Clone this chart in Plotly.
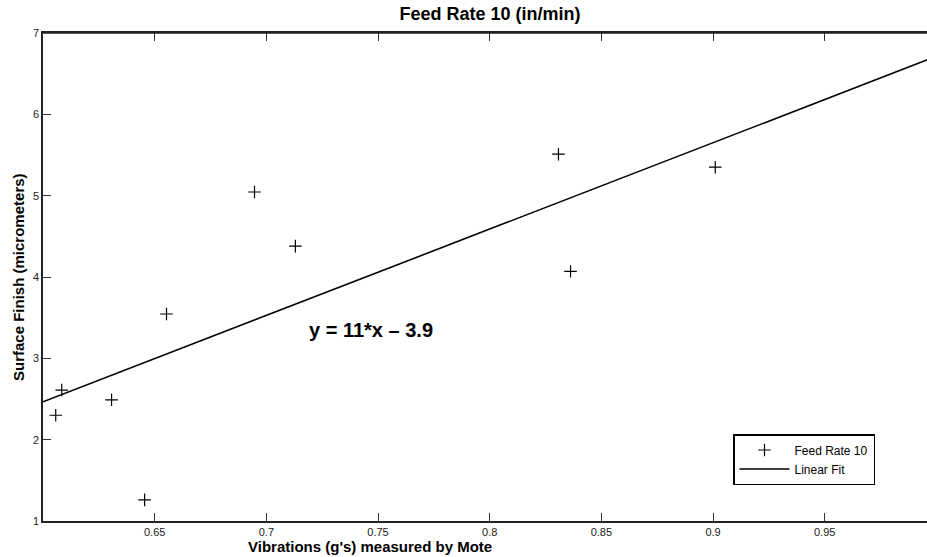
import numpy as np
import plotly.graph_objects as go

vibration = [0.6057, 0.6084, 0.6307, 0.6455, 0.6553, 0.6947, 0.7130, 0.8308, 0.8362, 0.9010]
surface_finish = [2.30, 2.61, 2.49, 1.26, 3.545, 5.045, 4.38, 5.51, 4.07, 5.35]
x_ticks = [0.65, 0.7, 0.75, 0.8, 0.85, 0.9, 0.95]
x_tick_labels = ["0.65", "0.7", "0.75", "0.8", "0.85", "0.9", "0.95"]
y_ticks = [1, 2, 3, 4, 5, 6, 7]
fit_x = [0.6, 1.0]

slope, intercept = np.polyfit(vibration, surface_finish, 1)
fit_y = [slope * v + intercept for v in fit_x]

FONT = "Liberation Sans, Arial, sans-serif"
L, R, T, B = 43, 0, 33, 36
PW, PH = 927 - L - R, 557 - T - B

fig = go.Figure()
fig.add_trace(go.Scatter(
    x=vibration, y=surface_finish, mode="markers", name="Feed Rate 10",
    marker=dict(symbol="cross-thin", size=9, color="black",
                line=dict(color="black", width=1.2)),
))
fig.add_trace(go.Scatter(
    x=fit_x, y=fit_y, mode="lines", name="Linear Fit",
    line=dict(color="black", width=1.6),
))

fig.update_layout(
    width=927, height=557,
    margin=dict(l=L, r=R, t=T, b=B, autoexpand=False),
    paper_bgcolor="white", plot_bgcolor="white",
    font=dict(family=FONT, color="black", size=11),
    showlegend=True,
    legend=dict(
        x=(733 - L) / PW, y=(557 - B - 434) / PH, xanchor="left", yanchor="top",
        bgcolor="white", bordercolor="black", borderwidth=1.5,
        font=dict(size=12, family=FONT),
        tracegroupgap=2, itemwidth=50, entrywidth=120, entrywidthmode="pixels",
    ),
    title=dict(text="<b>Feed Rate 10 (in/min)</b>", x=490/927, xref="container",
               xanchor="center", y=1 - 14/557, yref="container", yanchor="middle",
               font=dict(size=18, family=FONT), automargin=False),
)

fig.update_xaxes(
    range=[0.6, 0.9958], tickvals=x_ticks, ticktext=x_tick_labels,
    ticks="inside", ticklen=8, tickwidth=1, tickcolor="#333",
    showline=True, linecolor="#222", linewidth=1.5, mirror="ticks",
    showgrid=False, zeroline=False, tickfont=dict(size=11, color="#222"),
    automargin=False,
)
fig.update_yaxes(
    range=[1, 7], tickvals=y_ticks,
    ticks="inside", ticklen=8, tickwidth=1, tickcolor="#333",
    showline=True, linecolor="#222", linewidth=1.5,
    showgrid=False, zeroline=False, tickfont=dict(size=11, color="#222"),
    automargin=False,
)

# top frame edge of the axes box
fig.add_shape(type="line", xref="paper", yref="paper", x0=0, x1=1, y0=1, y1=1,
              line=dict(color="#222", width=1.5), layer="above")

fig.add_annotation(
    text="<b>Vibrations (g's) measured by Mote</b>", xref="paper", yref="paper",
    x=(370 - L) / PW, y=-(546 - (557 - B)) / PH, xanchor="center", yanchor="middle",
    showarrow=False, font=dict(size=15, family=FONT),
)
fig.add_annotation(
    text="<b>Surface Finish (micrometers)</b>", xref="paper", yref="paper",
    x=-(L - 18) / PW, y=0.5, xanchor="center", yanchor="middle", textangle=-90,
    showarrow=False, font=dict(size=15, family=FONT),
)
fig.add_annotation(
    text="<b>y = 11*x \u2013 3.9</b>", x=0.7467, y=3.35, xref="x", yref="y",
    showarrow=False, font=dict(size=20, family=FONT),
)

fig.write_html(
    "out.html",
    config={"displayModeBar": False},
    post_script="document.body.style.margin='0';document.body.style.overflow='hidden';",
)
